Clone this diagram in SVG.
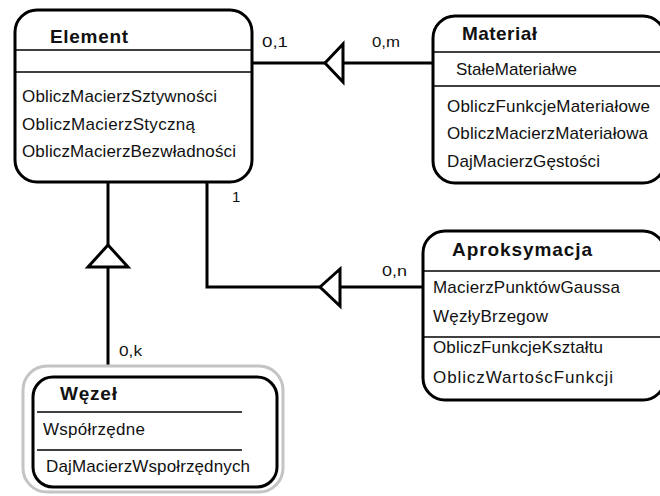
<svg xmlns="http://www.w3.org/2000/svg" width="660" height="496" viewBox="0 0 660 496">
  <style>
    .box { fill: #fff; stroke: #000; stroke-width: 3; }
    .halo { fill: #fff; stroke: #c4c4c4; stroke-width: 3; }
    .div { stroke: #000; stroke-width: 1.5; }
    .title { font-family: "Liberation Sans", Arial, sans-serif; font-weight: bold; font-size: 19px; fill: #111; }
    .item { font-family: "Liberation Sans", Arial, sans-serif; font-size: 17px; fill: #111; }
    .mult { font-family: "Liberation Sans", Arial, sans-serif; font-size: 15px; fill: #111; }
    .wire { fill: none; stroke: #000; stroke-width: 3; }
    .tri { fill: #fff; stroke: #000; stroke-width: 3; stroke-linejoin: miter; }
  </style>
  <rect width="660" height="496" fill="#fff"/>

  <!-- associations -->
  <g id="connectors">
    <!-- Element - Materiał -->
    <line class="wire" x1="252" y1="63" x2="325" y2="63"/>
    <line class="wire" x1="343" y1="63" x2="433" y2="63"/>
    <polygon class="tri" points="325,63 343,44 343,82"/>
    <text class="mult" x="262" y="47" textLength="26" lengthAdjust="spacingAndGlyphs">0,1</text>
    <text class="mult" x="372" y="47" textLength="28" lengthAdjust="spacingAndGlyphs">0,m</text>

    <!-- Element - Węzeł -->
    <line class="wire" x1="108" y1="182" x2="108" y2="245"/>
    <line class="wire" x1="108" y1="267" x2="108" y2="366"/>
    <polygon class="tri" points="108,245 88,267 128,267"/>
    <text class="mult" x="119" y="356" textLength="23" lengthAdjust="spacingAndGlyphs">0,k</text>

    <!-- Element - Aproksymacja -->
    <polyline class="wire" points="207,182 207,287 320,287"/>
    <line class="wire" x1="340" y1="287" x2="423" y2="287"/>
    <polygon class="tri" points="320,287 340,269 340,306"/>
    <text class="mult" x="232" y="202">1</text>
    <text class="mult" x="382" y="276" textLength="25" lengthAdjust="spacingAndGlyphs">0,n</text>
  </g>

  <!-- Element class -->
  <g id="element">
    <rect class="box" x="15" y="10" width="237" height="172" rx="22"/>
    <line class="div" x1="15" y1="50" x2="252" y2="50"/>
    <line class="div" x1="15" y1="72" x2="252" y2="72"/>
    <text class="title" x="50" y="43" textLength="78" lengthAdjust="spacing">Element</text>
    <text class="item" x="22" y="102" textLength="195" lengthAdjust="spacing">ObliczMacierzSztywności</text>
    <text class="item" x="22" y="130" textLength="173" lengthAdjust="spacing">ObliczMacierzStyczną</text>
    <text class="item" x="22" y="157" textLength="214" lengthAdjust="spacing">ObliczMacierzBezwładności</text>
  </g>

  <!-- Materiał class -->
  <g id="material">
    <rect class="box" x="433" y="16" width="232" height="167" rx="22"/>
    <line class="div" x1="433" y1="52" x2="660" y2="52"/>
    <line class="div" x1="433" y1="86" x2="660" y2="86"/>
    <text class="title" x="462" y="40" textLength="75" lengthAdjust="spacing">Materiał</text>
    <text class="item" x="456" y="75" textLength="121" lengthAdjust="spacing">StałeMateriałwe</text>
    <text class="item" x="447" y="112" textLength="203" lengthAdjust="spacing">ObliczFunkcjeMateriałowe</text>
    <text class="item" x="447" y="139" textLength="201" lengthAdjust="spacing">ObliczMacierzMateriałowa</text>
    <text class="item" x="447" y="167" textLength="153" lengthAdjust="spacing">DajMacierzGęstości</text>
  </g>

  <!-- Aproksymacja class -->
  <g id="aproksymacja">
    <rect class="box" x="423" y="231" width="242" height="169" rx="22"/>
    <line class="div" x1="423" y1="271" x2="660" y2="271"/>
    <line class="div" x1="423" y1="337" x2="660" y2="337"/>
    <text class="title" x="452" y="256" textLength="140" lengthAdjust="spacing">Aproksymacja</text>
    <text class="item" x="433" y="293" textLength="187" lengthAdjust="spacing">MacierzPunktówGaussa</text>
    <text class="item" x="433" y="322" textLength="115" lengthAdjust="spacing">WęzłyBrzegow</text>
    <text class="item" x="433" y="353" textLength="170" lengthAdjust="spacing">ObliczFunkcjeKształtu</text>
    <text class="item" x="433" y="383" textLength="180" lengthAdjust="spacing">ObliczWartoścFunkcji</text>
  </g>

  <!-- Węzeł class (highlighted) -->
  <g id="wezel">
    <rect class="halo" x="23" y="366" width="260" height="126" rx="24"/>
    <rect class="box" x="33" y="377" width="244" height="110" rx="20"/>
    <line class="div" x1="37" y1="412" x2="242" y2="412"/>
    <line class="div" x1="37" y1="450" x2="242" y2="450"/>
    <text class="title" x="60" y="400" textLength="57" lengthAdjust="spacing">Węzeł</text>
    <text class="item" x="43" y="435" textLength="102" lengthAdjust="spacing">Współrzędne</text>
    <text class="item" x="46" y="472" textLength="204" lengthAdjust="spacing">DajMacierzWspołrzędnych</text>
  </g>
</svg>
